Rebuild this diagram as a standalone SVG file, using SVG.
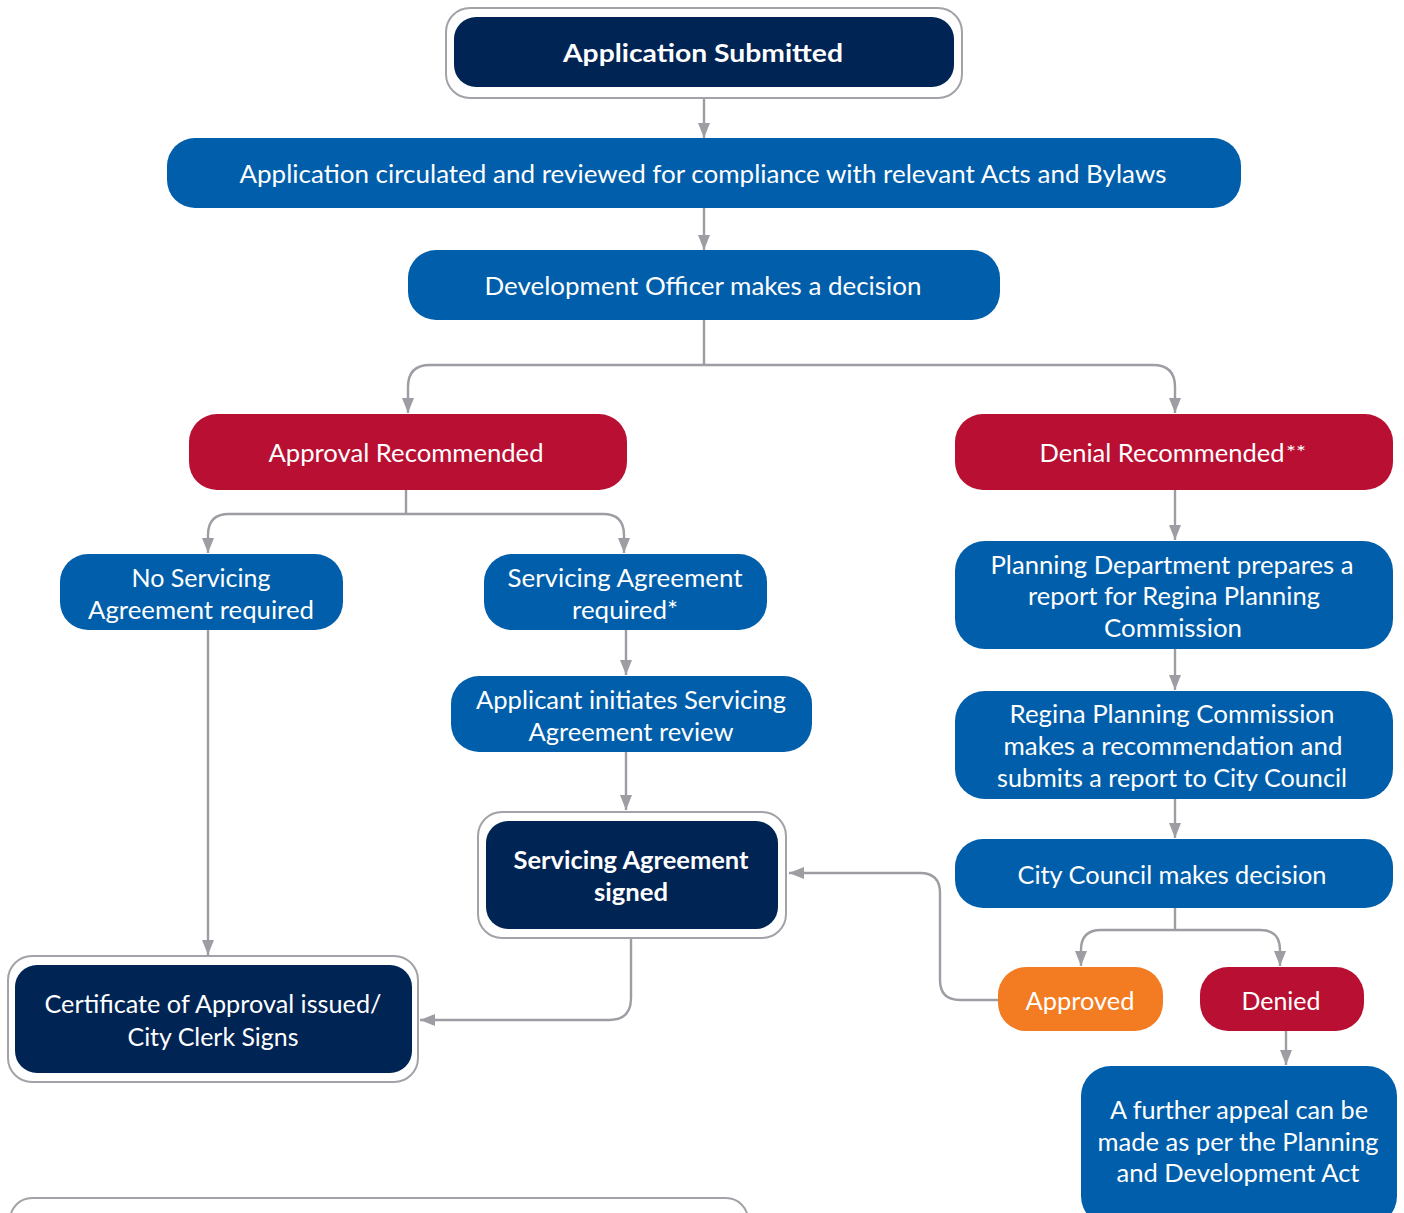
<svg xmlns="http://www.w3.org/2000/svg" width="1404" height="1213" viewBox="0 0 1404 1213">
<defs>
<style>
.navy{fill:#002454}
.blue{fill:#005eaa}
.red{fill:#b80f32}
.orange{fill:#f37b22}
.frame{fill:#ffffff;stroke:#a2a2a8;stroke-width:2}
.t{font-family:Lato,"Open Sans","Liberation Sans",sans-serif;font-size:25px;fill:#ffffff;text-anchor:middle}
.b{font-weight:bold}
.c{fill:none;stroke:#9d9da3;stroke-width:2.4}
</style>
<marker id="ar" viewBox="0 0 15 12" refX="15" refY="6" markerWidth="15" markerHeight="12" markerUnits="userSpaceOnUse" orient="auto">
<path d="M0,0 L15,6 L0,12 Z" fill="#9d9da3"/>
</marker>
</defs>
<rect width="1404" height="1213" fill="#ffffff"/>

<g id="connectors">
<path class="c" marker-end="url(#ar)" d="M704,98 V138"/>
<path class="c" marker-end="url(#ar)" d="M704,208 V250"/>
<path class="c" d="M704,320 V365"/>
<path class="c" marker-end="url(#ar)" d="M704,365 H430 Q408,365 408,387 V413"/>
<path class="c" marker-end="url(#ar)" d="M704,365 H1153 Q1175,365 1175,387 V413"/>
<path class="c" d="M406,490 V514"/>
<path class="c" marker-end="url(#ar)" d="M406,514 H229 Q208,514 208,535 V553"/>
<path class="c" marker-end="url(#ar)" d="M406,514 H603 Q624,514 624,535 V553"/>
<path class="c" marker-end="url(#ar)" d="M208,630 V955"/>
<path class="c" marker-end="url(#ar)" d="M626,630 V675"/>
<path class="c" marker-end="url(#ar)" d="M626,752 V810"/>
<path class="c" marker-end="url(#ar)" d="M631,938 V998 Q631,1020 609,1020 H420"/>
<path class="c" marker-end="url(#ar)" d="M1175,490 V540"/>
<path class="c" marker-end="url(#ar)" d="M1175,649 V690"/>
<path class="c" marker-end="url(#ar)" d="M1175,799 V838"/>
<path class="c" d="M1175,908 V930"/>
<path class="c" marker-end="url(#ar)" d="M1175,930 H1101 Q1081,930 1081,950 V966"/>
<path class="c" marker-end="url(#ar)" d="M1175,930 H1260 Q1280,930 1280,950 V966"/>
<path class="c" marker-end="url(#ar)" d="M1286,1031 V1065"/>
<path class="c" marker-end="url(#ar)" d="M998,1000 H960 Q940,1000 940,980 V893 Q940,873 920,873 H789"/>
</g>

<g id="n-submitted">
<rect class="frame" x="446" y="8" width="516" height="90" rx="24"/>
<rect class="navy" x="454" y="17" width="500" height="70" rx="22"/>
<text class="t b" x="703" y="62" textLength="280" lengthAdjust="spacingAndGlyphs">Application Submitted</text>
</g>

<g id="n-circulated">
<rect class="blue" x="167" y="138" width="1074" height="70" rx="28"/>
<text class="t" x="703" y="183" textLength="927" lengthAdjust="spacingAndGlyphs">Application circulated and reviewed for compliance with relevant Acts and Bylaws</text>
</g>

<g id="n-officer">
<rect class="blue" x="408" y="250" width="592" height="70" rx="28"/>
<text class="t" x="703" y="295" textLength="437" lengthAdjust="spacingAndGlyphs">Development Officer makes a decision</text>
</g>

<g id="n-approval">
<rect class="red" x="189" y="414" width="438" height="76" rx="28"/>
<text class="t" x="406" y="462" textLength="275" lengthAdjust="spacingAndGlyphs">Approval Recommended</text>
</g>

<g id="n-denial">
<rect class="red" x="955" y="414" width="438" height="76" rx="28"/>
<text class="t" x="1162" y="462" textLength="245" lengthAdjust="spacingAndGlyphs">Denial Recommended</text>
<text class="t" x="1296" y="459" style="font-size:20px" textLength="20" lengthAdjust="spacingAndGlyphs">**</text>
</g>

<g id="n-noservicing">
<rect class="blue" x="60" y="554" width="283" height="76" rx="28"/>
<text class="t" x="201" y="587" textLength="139" lengthAdjust="spacingAndGlyphs">No Servicing</text>
<text class="t" x="201" y="619" textLength="226" lengthAdjust="spacingAndGlyphs">Agreement required</text>
</g>

<g id="n-servicingreq">
<rect class="blue" x="484" y="554" width="283" height="76" rx="28"/>
<text class="t" x="625" y="587" textLength="235" lengthAdjust="spacingAndGlyphs">Servicing Agreement</text>
<text class="t" x="625" y="619" textLength="106" lengthAdjust="spacingAndGlyphs">required*</text>
</g>

<g id="n-applicant">
<rect class="blue" x="451" y="676" width="361" height="76" rx="28"/>
<text class="t" x="631" y="709" textLength="310" lengthAdjust="spacingAndGlyphs">Applicant initiates Servicing</text>
<text class="t" x="631" y="741" textLength="205" lengthAdjust="spacingAndGlyphs">Agreement review</text>
</g>

<g id="n-signed">
<rect class="frame" x="478" y="812" width="308" height="126" rx="24"/>
<rect class="navy" x="486" y="821" width="292" height="108" rx="22"/>
<text class="t b" x="631" y="869" textLength="235" lengthAdjust="spacingAndGlyphs">Servicing Agreement</text>
<text class="t b" x="631" y="901" textLength="74" lengthAdjust="spacingAndGlyphs">signed</text>
</g>

<g id="n-certificate">
<rect class="frame" x="8" y="956" width="410" height="126" rx="24"/>
<rect class="navy" x="15" y="965" width="397" height="108" rx="22"/>
<text class="t" x="213" y="1013" textLength="337" lengthAdjust="spacingAndGlyphs">Certificate of Approval issued/</text>
<text class="t" x="213" y="1046" textLength="171" lengthAdjust="spacingAndGlyphs">City Clerk Signs</text>
</g>

<g id="n-planningdept">
<rect class="blue" x="955" y="541" width="438" height="108" rx="30"/>
<text class="t" x="1172" y="574" textLength="363" lengthAdjust="spacingAndGlyphs">Planning Department prepares a</text>
<text class="t" x="1174" y="605" textLength="292" lengthAdjust="spacingAndGlyphs">report for Regina Planning</text>
<text class="t" x="1173" y="637" textLength="138" lengthAdjust="spacingAndGlyphs">Commission</text>
</g>

<g id="n-commission">
<rect class="blue" x="955" y="691" width="438" height="108" rx="30"/>
<text class="t" x="1172" y="723" textLength="325" lengthAdjust="spacingAndGlyphs">Regina Planning Commission</text>
<text class="t" x="1173" y="755" textLength="339" lengthAdjust="spacingAndGlyphs">makes a recommendation and</text>
<text class="t" x="1172" y="787" textLength="350" lengthAdjust="spacingAndGlyphs">submits a report to City Council</text>
</g>

<g id="n-council">
<rect class="blue" x="955" y="839" width="438" height="69" rx="28"/>
<text class="t" x="1172" y="884" textLength="309" lengthAdjust="spacingAndGlyphs">City Council makes decision</text>
</g>

<g id="n-approved">
<rect class="orange" x="998" y="967" width="165" height="64" rx="28"/>
<text class="t" x="1080" y="1010" textLength="109" lengthAdjust="spacingAndGlyphs">Approved</text>
</g>

<g id="n-denied">
<rect class="red" x="1200" y="967" width="164" height="64" rx="28"/>
<text class="t" x="1281" y="1010" textLength="79" lengthAdjust="spacingAndGlyphs">Denied</text>
</g>

<g id="n-appeal">
<rect class="blue" x="1081" y="1066" width="316" height="160" rx="30"/>
<text class="t" x="1239" y="1119" textLength="258" lengthAdjust="spacingAndGlyphs">A further appeal can be</text>
<text class="t" x="1238" y="1151" textLength="281" lengthAdjust="spacingAndGlyphs">made as per the Planning</text>
<text class="t" x="1238" y="1182" textLength="243" lengthAdjust="spacingAndGlyphs">and Development Act</text>
</g>

<g id="n-partial">
<rect class="frame" x="10" y="1198" width="738" height="80" rx="22"/>
</g>
</svg>
